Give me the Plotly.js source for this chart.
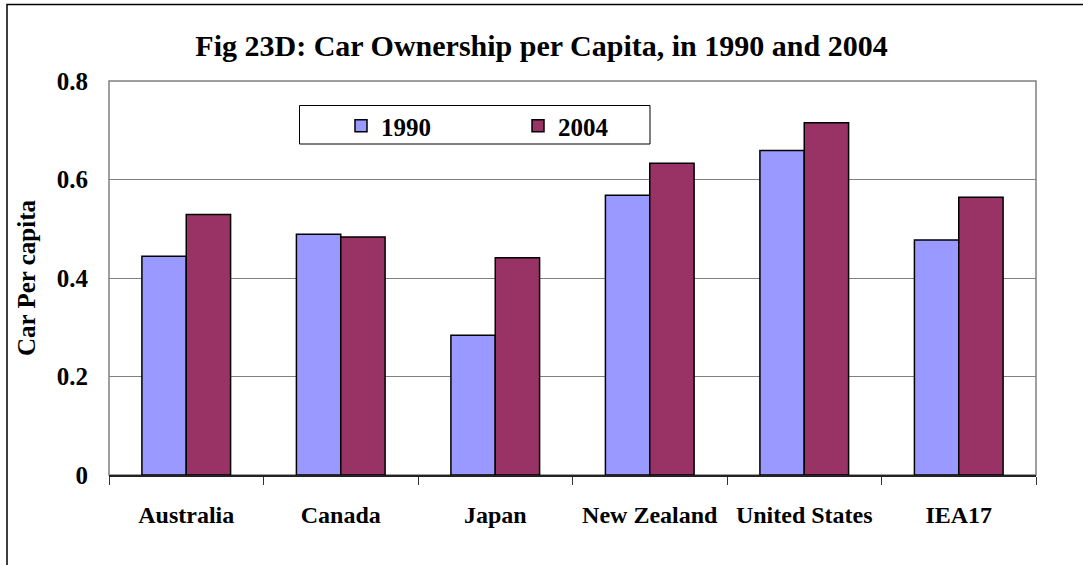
<!DOCTYPE html>
<html>
<head>
<meta charset="utf-8">
<script src="https://cdn.plot.ly/plotly-3.0.1.min.js"></script>
<style>html,body{margin:0;padding:0;background:#fff;}#chart{width:1083px;height:565px;}</style>
</head>
<body>
<div id="chart"></div>
<script>
const categories = ["Australia", "Canada", "Japan", "New Zealand", "United States", "IEA17"];
const values1990 = [0.444, 0.489, 0.284, 0.568, 0.659, 0.477];
const values2004 = [0.529, 0.483, 0.441, 0.633, 0.715, 0.564];
const yTickVals = [0, 0.2, 0.4, 0.6, 0.8];
const yTickText = ["0", "0.2", "0.4", "0.6", "0.8"];

const FONT = "Liberation Serif, Times New Roman, serif";

const traces = [
  {type: "bar", name: "1990", x: categories, y: values1990,
   marker: {color: "#9999FF", line: {color: "#000000", width: 1.5}}},
  {type: "bar", name: "2004", x: categories, y: values2004,
   marker: {color: "#993366", line: {color: "#000000", width: 1.5}}}
];

const W = 1083, H = 565, L = 109, R = 1036, T = 81, B = 475;
const px = v => (v - L) / (R - L);
const py = v => (B - v) / (B - T);

const layout = {
  width: W, height: H,
  margin: {l: L, r: W - R, t: T, b: H - B, pad: 0},
  paper_bgcolor: "#ffffff", plot_bgcolor: "#ffffff",
  font: {family: FONT, size: 24, color: "#000000", weight: "bold"},
  title: {text: "Fig 23D: Car Ownership per Capita, in 1990 and 2004",
          font: {family: FONT, size: 30, color: "#000000", weight: "bold"},
          xref: "container", x: 0.5, xanchor: "center",
          yref: "container", y: 1 - 45 / H, yanchor: "middle"},
  barmode: "group", bargap: 0.426, bargroupgap: 0,
  showlegend: true,
  legend: {orientation: "h", x: px(341), xanchor: "left", y: py(126), yanchor: "middle",
           bgcolor: "rgba(0,0,0,0)", borderwidth: 0,
           entrywidth: 132, entrywidthmode: "pixels",
           font: {family: FONT, size: 25, color: "#000", weight: "bold"}},
  xaxis: {type: "category", showgrid: false, zeroline: false,
          showline: true, linecolor: "#222222", linewidth: 1.5,
          ticks: "outside", tickson: "boundaries", ticklen: 8, tickcolor: "#333333", tickwidth: 1,
          ticklabelstandoff: 18,
          tickfont: {family: FONT, size: 24, color: "#000", weight: "bold"}},
  yaxis: {range: [0, 0.8], tickvals: yTickVals, ticktext: yTickText,
          showgrid: true, gridcolor: "#808080", gridwidth: 1,
          zeroline: false, showline: false, ticks: "",
          ticklabelstandoff: 20,
          tickfont: {family: FONT, size: 25, color: "#000", weight: "bold"},
          title: {text: "Car Per capita", standoff: 14,
                  font: {family: FONT, size: 25, color: "#000", weight: "bold"}}},
  shapes: [
    {type: "rect", xref: "paper", yref: "paper", x0: 0, x1: 1, y0: 0, y1: 1,
     line: {color: "#808080", width: 1.5}, fillcolor: "rgba(0,0,0,0)", layer: "below"},
    {type: "rect", xref: "paper", yref: "paper", x0: px(299.5), x1: px(650), y0: py(144), y1: py(105.5),
     line: {color: "#000000", width: 1}, fillcolor: "#ffffff", layer: "above"},
    {type: "rect", xref: "paper", yref: "paper", x0: px(7), x1: px(1100), y0: py(580), y1: py(4.5),
     line: {color: "#000000", width: 1.5}, fillcolor: "rgba(0,0,0,0)", layer: "below"}
  ]
};

Plotly.newPlot("chart", traces, layout, {displayModeBar: false, staticPlot: true});
</script>
</body>
</html>
